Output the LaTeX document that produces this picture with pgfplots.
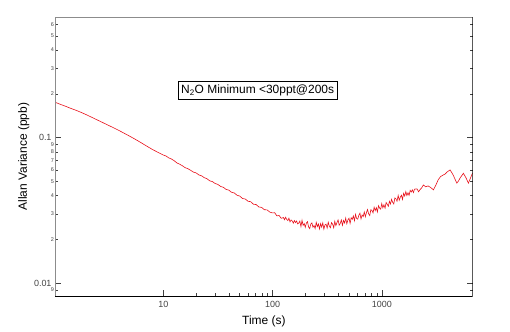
\documentclass[border=0pt]{standalone}
\usepackage{pgfplots}
\pgfplotsset{compat=1.18}
\usepackage{fontspec}
\setmainfont{Liberation Sans}
\definecolor{tickgray}{HTML}{444444}
\definecolor{lineRed}{HTML}{E8101A}
\begin{document}
\begin{tikzpicture}
\useasboundingbox (0,0) rectangle (510bp,332bp);
\begin{loglogaxis}[
  at={(55bp,36bp)}, anchor=south west,
  width=417.7bp, height=278.7bp, scale only axis,
  xmin=1.02, xmax=6800, ymin=0.00817, ymax=0.671,
  axis line style={draw=none},
  xtick={10,100,1000}, xticklabels={10,100,1000},
  ytick={0.01,0.1}, yticklabels={0.01\hspace{9bp},0.1\hspace{9bp}},
  xtick pos=left, ytick pos=both, yticklabel pos=left,
  tick align=inside,
  major tick length=6bp, minor tick length=3bp,
  yminorticks=false,
  tick style={black!75, line width=0.5bp},
  tick label style={font=\fontsize{9}{10}\selectfont, text=tickgray},
  xticklabel style={yshift=-2bp},
  extra y ticks={0.009,0.02,0.03,0.04,0.05,0.06,0.07,0.08,0.09,0.2,0.3,0.4,0.5,0.6},
  extra y tick labels={9,2,3,4,5,6,7,8,9,2,3,4,5,6},
  extra y tick style={major tick length=3bp, tick label style={font=\fontsize{5.5}{6}\selectfont, inner sep=1bp}},
  xlabel={Time (s)},
  ylabel={Allan Variance (ppb)},
  label style={font=\fontsize{12}{14}\selectfont},
  xlabel style={at={(axis description cs:0.5,-0.092)}, anchor=center},
  ylabel style={at={(axis description cs:-0.075,0.5)}, anchor=center},
]
\addplot[lineRed, line width=0.6bp] coordinates {
(1.00,0.1762) (1.122,0.1702) (1.259,0.1648) (1.413,0.1592) (1.585,0.1542)
(1.778,0.1489) (1.995,0.1432) (2.239,0.1374) (2.512,0.1318) (2.818,0.1265)
(3.162,0.1213) (3.548,0.1164) (3.981,0.1114) (4.467,0.1064) (5.012,0.1016)
(5.623,0.0968) (6.310,0.0920) (7.079,0.0873) (7.943,0.0830) (8.913,0.0793)
(10.00,0.0760) (10.59,0.0748) (11.22,0.0726) (11.89,0.0713) (12.59,0.0694)
(13.34,0.0670) (14.13,0.0657) (14.96,0.0641) (15.85,0.0622) (16.79,0.0612)
(17.78,0.0597) (18.84,0.0580) (19.95,0.0573) (21.13,0.0555) (22.39,0.0547)
(23.71,0.0531) (25.12,0.0522) (26.61,0.0505) (28.18,0.0499) (29.85,0.0484)
(31.62,0.0477) (33.50,0.0462) (35.48,0.0456) (37.58,0.0441) (39.81,0.0436)
(42.17,0.0421) (44.67,0.0417) (47.32,0.0402) (50.12,0.0397) (53.09,0.0382)
(56.23,0.0379) (59.57,0.0366) (63.10,0.0363) (66.83,0.0349) (70.79,0.0347)
(74.99,0.0334) (79.43,0.0332) (84.14,0.0320) (89.13,0.0319) (94.41,0.0308)
(100.0,0.0304) (104.7,0.0305) (109.6,0.0290) (114.8,0.0292) (120.2,0.0279)
(125.9,0.02828) (128.8,0.02729) (131.8,0.02841) (134.9,0.02741) (138.0,0.02694)
(141.3,0.02799) (144.5,0.02640) (147.9,0.02720) (151.4,0.02682) (154.9,0.02586)
(158.5,0.02694) (162.2,0.02609) (166.0,0.02678) (169.8,0.02558) (173.8,0.02589)
(177.8,0.02673) (182.0,0.02449) (186.2,0.02708) (190.5,0.02496) (195.0,0.02569)
(199.5,0.02420) (204.2,0.02595) (208.9,0.02647) (213.8,0.02432) (218.8,0.02374)
(223.9,0.02545) (229.1,0.02597) (234.4,0.02425) (239.9,0.02488) (245.5,0.02375)
(251.2,0.02618) (257.0,0.02451) (263.0,0.02549) (269.2,0.02360) (275.4,0.02566)
(281.8,0.02429) (288.4,0.02597) (295.1,0.02352) (302.0,0.02514) (309.0,0.02543)
(316.2,0.02394) (323.6,0.02625) (331.1,0.02465) (338.8,0.02405) (346.7,0.02609)
(354.8,0.02546) (363.1,0.02404) (371.5,0.02665) (380.2,0.02489) (389.0,0.02611)
(398.1,0.02723) (407.4,0.02504) (416.9,0.02573) (426.6,0.02718) (436.5,0.02499)
(446.7,0.02698) (457.1,0.02594) (467.7,0.02801) (478.6,0.02563) (489.8,0.02721)
(501.2,0.02795) (512.9,0.02576) (524.8,0.02816) (537.0,0.02742) (549.5,0.02900)
(562.3,0.02687) (575.4,0.02971) (588.8,0.02782) (602.6,0.02754) (616.6,0.02930)
(631.0,0.03031) (645.7,0.02764) (660.7,0.02944) (676.1,0.02869) (691.8,0.03087)
(707.9,0.02863) (724.4,0.03064) (741.3,0.03209) (758.6,0.02992) (776.2,0.02917)
(794.3,0.03200) (812.8,0.03160) (831.8,0.03042) (851.1,0.03324) (871.0,0.03152)
(891.3,0.03307) (912.0,0.03089) (933.3,0.03409) (955.0,0.03282) (977.2,0.03224)
(1000,0.03524) (1023,0.03292) (1047,0.03456) (1072,0.03279) (1096,0.03584)
(1122,0.03487) (1148,0.03376) (1175,0.03653) (1202,0.03501) (1230,0.03770)
(1259,0.03594) (1288,0.03502) (1318,0.03855) (1349,0.03795) (1380,0.03661)
(1413,0.04009) (1445,0.03714) (1479,0.03905) (1514,0.04024) (1549,0.03765)
(1585,0.04144) (1622,0.03974) (1660,0.04260) (1698,0.04003) (1738,0.04184)
(1778,0.04013) (1820,0.04345) (1862,0.04230) (1905,0.04377) (1950,0.04198)
(1995,0.04432) (2105,0.0444) (2170,0.0425) (2244,0.0440) (2320,0.0452)
(2404,0.0473) (2520,0.0460) (2655,0.0466) (2800,0.0455) (2970,0.0438)
(3120,0.0470) (3279,0.0512) (3450,0.0540) (3666,0.0555) (3800,0.0562)
(3963,0.0581) (4224,0.0600) (4498,0.0555) (4864,0.0487) (5050,0.0505)
(5212,0.0528) (5589,0.0569) (5916,0.0528) (6209,0.0487) (6436,0.0520)
(6714,0.0563) (6900,0.0580)
};
\node[draw=black, fill=white, line width=0.7bp, inner xsep=3bp, inner ysep=3.5bp,
  font=\fontsize{12}{14}\selectfont] at (axis cs:73,0.211) {N\textsubscript{2}O Minimum <30ppt@200s};
\draw[black!45, line width=1.3bp] (rel axis cs:0,0) -- (rel axis cs:0,1) -- (rel axis cs:1,1);
\draw[black, line width=0.8bp] (rel axis cs:0,0) -- (rel axis cs:1,0) -- (rel axis cs:1,1);
\end{loglogaxis}
\end{tikzpicture}
\end{document}
